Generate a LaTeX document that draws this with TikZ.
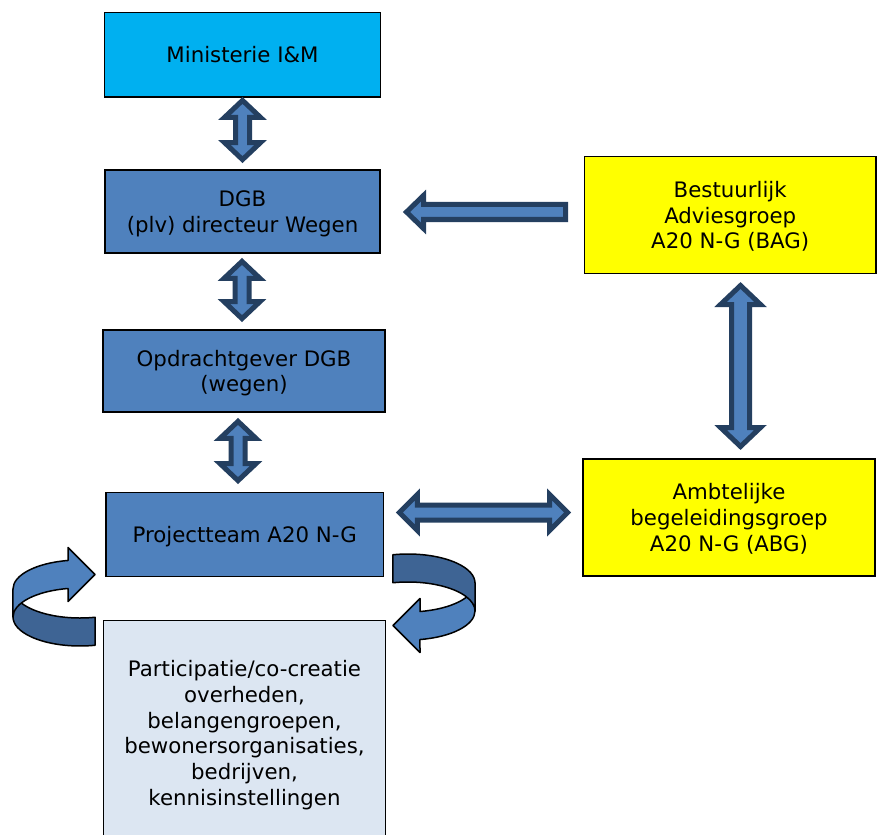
\documentclass[tikz,border=0pt]{standalone}
\usepackage{fontspec}
\setmainfont{DejaVu Sans}
\definecolor{cyanbox}{HTML}{00B0F0}
\definecolor{bluebox}{HTML}{4F81BD}
\definecolor{yellowbox}{HTML}{FFFF00}
\definecolor{palebox}{HTML}{DCE6F2}
\definecolor{navyline}{HTML}{243F60}
\definecolor{shadeblue}{HTML}{3E6494}
\tikzset{
  box/.style={draw=black, line width=1.4pt, inner sep=0pt, align=center, text depth=0pt,
    font=\fontsize{21.3}{25.8}\selectfont, text=black},
  blockarrow/.style={draw=navyline, fill=bluebox, line width=5pt, line join=miter},
  curvedarrow/.style={draw=black, line width=1.5pt, line join=round},
}
% vertical double block arrow: cx, top, bottom, shaft half, head half, head length
\newcommand{\vdarrow}[6]{%
  \draw[blockarrow] (#1,#2) -- ({#1+#5},{#2+#6}) -- ({#1+#4},{#2+#6}) -- ({#1+#4},{#3-#6})
    -- ({#1+#5},{#3-#6}) -- (#1,#3) -- ({#1-#5},{#3-#6}) -- ({#1-#4},{#3-#6})
    -- ({#1-#4},{#2+#6}) -- ({#1-#5},{#2+#6}) -- cycle;}
% horizontal double block arrow: cy, left, right, shaft half, head half, head length
\newcommand{\hdarrow}[6]{%
  \draw[blockarrow] (#2,#1) -- ({#2+#6},{#1-#5}) -- ({#2+#6},{#1-#4}) -- ({#3-#6},{#1-#4})
    -- ({#3-#6},{#1-#5}) -- (#3,#1) -- ({#3-#6},{#1+#5}) -- ({#3-#6},{#1+#4})
    -- ({#2+#6},{#1+#4}) -- ({#2+#6},{#1+#5}) -- cycle;}
% pieces of the curved ribbon arrow
\newcommand{\ribbonlight}{%
  \draw[curvedarrow, fill=bluebox] (68,588.5)
    arc[start angle=259.7, end angle=180, x radius=67, y radius=29]
    -- (13,589) arc[start angle=180, end angle=259.7, x radius=67, y radius=29]
    -- (68,547.5) -- (95,574.5) -- (68,601.5) -- cycle;}
\newcommand{\ribbondark}{%
  \draw[curvedarrow, fill=shadeblue] (13,589)
    arc[start angle=180, end angle=77, x radius=67, y radius=29]
    -- ++(0,28) arc[start angle=77, end angle=180, x radius=67, y radius=29] -- cycle;}
\begin{document}
\begin{tikzpicture}[x=1pt,y=-1pt]
\useasboundingbox (0,0) rectangle (882,834);
\fill[white] (0,0) rectangle (882,834);
\begin{scope}
\clip (0,0) rectangle (882,834);
% boxes
\node[box, fill=cyanbox, minimum width=275.5pt, minimum height=84.4pt] (min) at (242.5,54.7) {Ministerie I\&M};
\node[box, fill=bluebox, minimum width=275pt, minimum height=83pt] (dgb) at (242.5,211.5) {DGB\\(plv) directeur Wegen};
\node[box, fill=bluebox, minimum width=282pt, minimum height=82pt] (opd) at (244,371) {Opdrachtgever DGB\\(wegen)};
\node[box, fill=bluebox, minimum width=277.3pt, minimum height=84.4pt] (prj) at (244.7,534.5) {Projectteam A20 N-G};
\node[box, fill=palebox, minimum width=282.4pt, minimum height=224.3pt] (par) at (244.5,732.8)
  {Participatie/co-creatie\\overheden,\\belangengroepen,\\bewonersorganisaties,\\bedrijven,\\kennisinstellingen};
\node[box, fill=yellowbox, minimum width=291.7pt, minimum height=116.6pt] (bag) at (730.2,215) {Bestuurlijk\\Adviesgroep\\A20 N-G (BAG)};
\node[box, fill=yellowbox, minimum width=292pt, minimum height=117pt] (abg) at (729,517.5) {Ambtelijke\\begeleidingsgroep\\A20 N-G (ABG)};
\end{scope}
% block arrows
\vdarrow{242.5}{100.4}{159.6}{7}{18}{17}
\vdarrow{242}{261.4}{318.6}{7}{18}{17}
\vdarrow{238}{421.4}{480.6}{7}{18}{17}
\vdarrow{740.5}{285.5}{446.5}{9}{20}{19}
\hdarrow{512.5}{399.4}{567.6}{7.5}{18}{18}
\draw[blockarrow] (406.5,212) -- (423.5,195.5) -- (423.5,204.5) -- (565.5,204.5)
  -- (565.5,219.5) -- (423.5,219.5) -- (423.5,228.5) -- cycle;
% curved ribbon arrows
\ribbondark
\ribbonlight
\begin{scope}[rotate around={180:(244,600)}]
\ribbonlight
\ribbondark
\end{scope}
\end{tikzpicture}
\end{document}
